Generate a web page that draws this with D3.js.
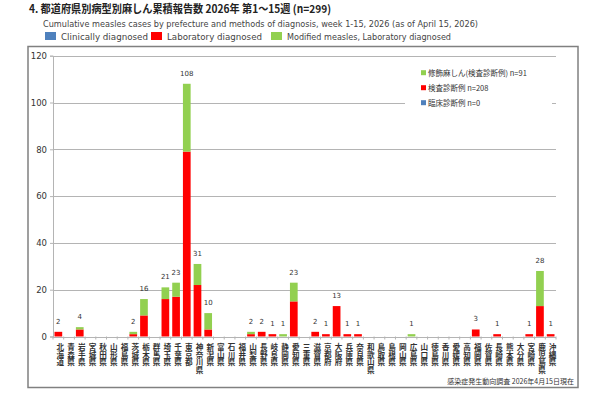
<!DOCTYPE html>
<html>
<head>
<meta charset="utf-8">
<script src="https://cdn.jsdelivr.net/npm/d3@7"></script>
<style>
	body { margin: 0; background: #fff; }
	svg { display: block; font-family: "Noto Sans CJK JP", "DejaVu Sans", sans-serif; }
</style>
</head>
<body>
<svg width="592" height="396"></svg>
<script>
// prefectures, in the order of the x axis
var prefectures = ["北海道", "青森県", "岩手県", "宮城県", "秋田県", "山形県", "福島県", "茨城県", "栃木県", "群馬県",
	"埼玉県", "千葉県", "東京都", "神奈川県", "新潟県", "富山県", "石川県", "福井県", "山梨県", "長野県",
	"岐阜県", "静岡県", "愛知県", "三重県", "滋賀県", "京都府", "大阪府", "兵庫県", "奈良県", "和歌山県",
	"鳥取県", "島根県", "岡山県", "広島県", "山口県", "徳島県", "香川県", "愛媛県", "高知県", "福岡県",
	"佐賀県", "長崎県", "熊本県", "大分県", "宮崎県", "鹿児島県", "沖縄県"];

var clinical = [0, 0, 0, 0, 0, 0, 0, 0, 0, 0, 0, 0, 0, 0, 0, 0, 0, 0, 0, 0, 0, 0, 0, 0, 0, 0, 0, 0, 0, 0, 0, 0, 0, 0, 0, 0, 0, 0, 0, 0, 0, 0, 0, 0, 0, 0, 0];
var laboratory = [2, 0, 3, 0, 0, 0, 0, 1, 9, 0, 16, 17, 79, 22, 3, 0, 0, 0, 1, 2, 1, 0, 15, 0, 2, 1, 13, 1, 1, 0, 0, 0, 0, 0, 0, 0, 0, 0, 0, 3, 0, 1, 0, 0, 1, 13, 1];
var modified = [0, 0, 1, 0, 0, 0, 0, 1, 7, 0, 5, 6, 29, 9, 7, 0, 0, 0, 1, 0, 0, 1, 8, 0, 0, 0, 0, 0, 0, 0, 0, 0, 0, 1, 0, 0, 0, 0, 0, 0, 0, 0, 0, 0, 0, 15, 0];

var yTicks = [0, 20, 40, 60, 80, 100, 120];

var colClinical = "#4f81bd",
	colLab = "#ff0000",
	colMod = "#92d050";

function drawChart() {
	var svg = d3.select("svg");

	// titles
	svg.append("text")
		.attr("x", 29).attr("y", 13)
		.attr("font-size", 11).attr("font-weight", "bold").attr("fill", "#222")
		.attr("textLength", 302).attr("lengthAdjust", "spacingAndGlyphs")
		.text("4. 都道府県別病型別麻しん累積報告数  2026年 第1～15週 (n=299)");

	svg.append("text")
		.attr("x", 43).attr("y", 26.5)
		.attr("font-family", "DejaVu Sans").attr("font-size", 8.5).attr("fill", "#444")
		.attr("textLength", 435).attr("lengthAdjust", "spacingAndGlyphs")
		.text("Cumulative measles cases by prefecture and methods of diagnosis, week 1-15, 2026 (as of April 15, 2026)");

	// top legend
	var topLegend = [
		{ label: "Clinically diagnosed", color: colClinical, x: 45, w: 87 },
		{ label: "Laboratory diagnosed", color: colLab, x: 151, w: 95 },
		{ label: "Modified measles, Laboratory diagnosed", color: colMod, x: 271, w: 164 }
	];
	var tl = svg.selectAll(".tl").data(topLegend).enter().append("g").attr("class", "tl");
	tl.append("rect")
		.attr("x", function(d) { return d.x; }).attr("y", 32)
		.attr("width", 11).attr("height", 8)
		.attr("fill", function(d) { return d.color; });
	tl.append("text")
		.attr("x", function(d) { return d.x + 16; }).attr("y", 39.5)
		.attr("font-family", "DejaVu Sans").attr("font-size", 8.5).attr("fill", "#444")
		.attr("textLength", function(d) { return d.w; }).attr("lengthAdjust", "spacingAndGlyphs")
		.text(function(d) { return d.label; });

	// chart frame
	svg.append("rect")
		.attr("x", 28).attr("y", 46.5)
		.attr("width", 550).attr("height", 341)
		.attr("fill", "#fff").attr("stroke", "#808080").attr("stroke-width", 1.5);

	var plotLeft = 53, plotRight = 556, plotTop = 55.7, plotBottom = 336.5;

	var x = d3.scaleBand().domain(prefectures).range([plotLeft, plotRight]).paddingInner(0.28).paddingOuter(0.14);
	var y = d3.scaleLinear().domain([0, 120]).range([plotBottom, plotTop]);

	var g = svg.append("g");

	// gridlines
	g.selectAll(".grid")
		.data(yTicks)
		.enter().append("line")
		.attr("class", "grid")
		.attr("x1", plotLeft).attr("x2", plotRight)
		.attr("y1", function(d) { return Math.round(y(d)) + 0.5; })
		.attr("y2", function(d) { return Math.round(y(d)) + 0.5; })
		.attr("stroke", "#b4b4b4").attr("stroke-width", 1);

	// y axis
	var yAxis = g.append("g")
		.attr("transform", "translate(" + plotLeft + ",0)")
		.call(d3.axisLeft(y).tickValues(yTicks).tickSize(3).tickPadding(3));
	yAxis.select(".domain").attr("stroke", "#b4b4b4");
	yAxis.selectAll(".tick line").attr("stroke", "#b4b4b4");
	yAxis.selectAll(".tick text")
		.attr("font-family", "DejaVu Sans").attr("font-size", 8.5).attr("fill", "#333");

	// x axis ticks between categories
	var n = prefectures.length;
	g.selectAll(".xt")
		.data(d3.range(n + 1))
		.enter().append("line")
		.attr("x1", function(i) { return plotLeft + i * (plotRight - plotLeft) / n; })
		.attr("x2", function(i) { return plotLeft + i * (plotRight - plotLeft) / n; })
		.attr("y1", plotBottom).attr("y2", plotBottom + 3)
		.attr("stroke", "#b4b4b4");

	// stacked bars
	var rows = prefectures.map(function(p, i) {
		return { name: p, clinical: clinical[i], laboratory: laboratory[i], modified: modified[i] };
	});
	var series = d3.stack().keys(["clinical", "laboratory", "modified"])(rows);
	var colors = { clinical: colClinical, laboratory: colLab, modified: colMod };

	g.selectAll(".series")
		.data(series)
		.enter().append("g")
		.attr("fill", function(s) { return colors[s.key]; })
		.selectAll("rect")
		.data(function(s) { return s; })
		.enter().append("rect")
		.attr("x", function(d) { return x(d.data.name); })
		.attr("width", x.bandwidth())
		.attr("y", function(d) { return y(d[1]); })
		.attr("height", function(d) { return y(d[0]) - y(d[1]); });

	// totals above bars
	g.selectAll(".total")
		.data(rows.filter(function(d) { return d.clinical + d.laboratory + d.modified > 0; }))
		.enter().append("text")
		.attr("x", function(d) { return x(d.name) + x.bandwidth() / 2; })
		.attr("y", function(d) { return y(d.clinical + d.laboratory + d.modified) - 8; })
		.attr("text-anchor", "middle")
		.attr("font-family", "DejaVu Sans").attr("font-size", 7).attr("fill", "#333")
		.text(function(d) { return d.clinical + d.laboratory + d.modified; });

	// vertical category labels, one text per character
	var chars = [];
	prefectures.forEach(function(p) {
		p.split("").forEach(function(c, k) {
			chars.push({ p: p, c: c, k: k });
		});
	});
	g.selectAll(".xl")
		.data(chars)
		.enter().append("text")
		.attr("class", "xl")
		.attr("x", function(d) { return x(d.p) + x.bandwidth() / 2 + 2; })
		.attr("y", function(d) { return 350 + d.k * 7.7; })
		.attr("text-anchor", "middle")
		.attr("font-size", 7.6).attr("fill", "#333").attr("font-weight", "bold")
		.text(function(d) { return d.c; });

	// inner legend
	var innerLegend = [
		{ label: "修飾麻しん(検査診断例) n=91", color: colMod },
		{ label: "検査診断例 n=208", color: colLab },
		{ label: "臨床診断例 n=0", color: colClinical }
	];
	svg.append("rect")
		.attr("x", 405).attr("y", 64).attr("width", 147).attr("height", 44).attr("fill", "#fff");
	var il = svg.selectAll(".il").data(innerLegend).enter().append("g")
		.attr("transform", function(d, i) { return "translate(421," + (72.7 + i * 15) + ")"; });
	il.append("rect")
		.attr("x", 0).attr("y", -2.5).attr("width", 5).attr("height", 5)
		.attr("fill", function(d) { return d.color; });
	il.append("text")
		.attr("x", 7).attr("y", 3)
		.attr("font-size", 7.5).attr("fill", "#333")
		.text(function(d) { return d.label; });

	// source note
	svg.append("text")
		.attr("x", 574).attr("y", 384)
		.attr("text-anchor", "end")
		.attr("font-size", 7).attr("fill", "#333")
		.text("感染症発生動向調査 2026年4月15日現在");
}

drawChart();
</script>
</body>
</html>
